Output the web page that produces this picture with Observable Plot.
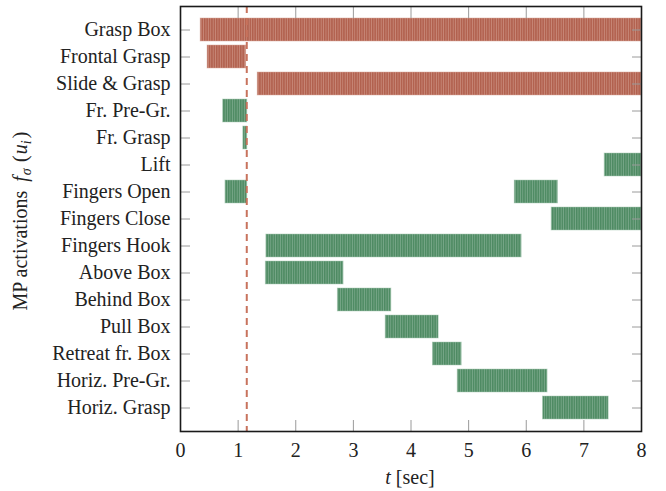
<!DOCTYPE html>
<html>
<head>
<meta charset="utf-8">
<script src="https://cdn.jsdelivr.net/npm/d3@7"></script>
<script src="https://cdn.jsdelivr.net/npm/@observablehq/plot@0.6"></script>
<style>
  html, body { margin: 0; padding: 0; background: #fff; }
  #chart svg { display: block; }
</style>
</head>
<body>
<div id="chart"></div>
<script>
const categories = ["Grasp Box","Frontal Grasp","Slide & Grasp","Fr. Pre-Gr.","Fr. Grasp","Lift","Fingers Open","Fingers Close","Fingers Hook","Above Box","Behind Box","Pull Box","Retreat fr. Box","Horiz. Pre-Gr.","Horiz. Grasp"];
const segTask  = ["Grasp Box","Frontal Grasp","Slide & Grasp","Fr. Pre-Gr.","Fr. Grasp","Lift","Fingers Open","Fingers Open","Fingers Close","Fingers Hook","Above Box","Behind Box","Pull Box","Retreat fr. Box","Horiz. Pre-Gr.","Horiz. Grasp"];
const segStart = [0.35,0.47,1.34,0.74,1.09,7.36,0.78,5.80,6.44,1.49,1.48,2.73,3.56,4.38,4.81,6.29];
const segEnd   = [8.00,1.14,8.00,1.16,1.16,8.00,1.16,6.55,8.00,5.92,2.83,3.66,4.48,4.88,6.37,7.43];
const segGroup = ["box","box","box","hand","hand","hand","hand","hand","hand","hand","hand","hand","hand","hand","hand","hand"];
const markerTime = [1.15];
const xTicks = [0,1,2,3,4,5,6,7,8];

const segments = segTask.map((t, i) => ({task: t, start: segStart[i], end: segEnd[i], group: segGroup[i]}));

const font = "'Liberation Serif', 'Times New Roman', serif";
const tickColor = "#9a9a9a";

const plot = Plot.plot({
  width: 666,
  height: 491,
  marginLeft: 180,
  marginRight: 25,
  marginTop: 6,
  marginBottom: 60,
  style: {fontFamily: font, fontSize: "20px", color: "#222", background: "#fff"},
  x: {domain: [0, 8]},
  y: {domain: categories, paddingInner: 0.16, paddingOuter: 0.33},
  marks: [
    Plot.barX(segments.filter(d => d.group === "box"), {y: "task", x1: "start", x2: "end", fill: "url(#stripeR)", stroke: "#d9a89b", strokeWidth: 0.8, strokeOpacity: 0.6}),
    Plot.barX(segments.filter(d => d.group === "hand"), {y: "task", x1: "start", x2: "end", fill: "url(#stripeG)", stroke: "#a9c9b4", strokeWidth: 0.8, strokeOpacity: 0.6}),
    Plot.ruleX(markerTime, {x: d => d, stroke: "#c8735d", strokeWidth: 2, strokeDasharray: "7,5"}),
    Plot.axisX({anchor: "bottom", ticks: xTicks, tickSize: 0, tickPadding: 9, dy: 2, label: null, fill: "#222", tickFormat: d => d}),
    Plot.axisX({anchor: "bottom", ticks: xTicks, tickSize: -11, stroke: tickColor, label: null, tickFormat: () => ""}),
    Plot.axisX({anchor: "top", ticks: xTicks, tickSize: -11, stroke: tickColor, label: null, tickFormat: () => ""}),
    Plot.axisY({anchor: "left", tickSize: -10, tickPadding: 20, stroke: tickColor, label: null, fill: "#222"}),
    Plot.axisY({anchor: "right", tickSize: -10, stroke: tickColor, label: null, tickFormat: () => ""}),
    Plot.frame({stroke: "#1a1a1a", strokeWidth: 1.6})
  ]
});

document.getElementById("chart").appendChild(plot);

const svg = d3.select(plot);
svg.style("font-family", font);
const defs = svg.insert("defs", ":first-child");
function stripe(id, dark, light) {
  const p = defs.append("pattern").attr("id", id).attr("patternUnits", "userSpaceOnUse")
    .attr("width", 2.4).attr("height", 20);
  p.append("rect").attr("width", 2.4).attr("height", 20).attr("fill", dark);
  p.append("rect").attr("x", 1.5).attr("width", 0.9).attr("height", 20).attr("fill", light);
}
stripe("stripeR", "#b1604d", "#c8897a");
stripe("stripeG", "#4d8a62", "#7aa88a");

// y axis title
const yl = svg.append("text")
  .attr("transform", "translate(27,221) rotate(-90)")
  .attr("text-anchor", "middle")
  .attr("font-family", font).attr("font-size", 20).attr("fill", "#222");
yl.append("tspan").text("MP activations");
yl.append("tspan").attr("font-style", "italic").attr("dx", 9).text("f");
yl.append("tspan").attr("font-style", "italic").attr("font-size", 14).attr("dy", 4).attr("dx", 1).text("σ");
yl.append("tspan").attr("dy", -4).attr("dx", 6).attr("font-size", 21).text("(");
yl.append("tspan").attr("font-style", "italic").attr("dx", 1).text("u");
yl.append("tspan").attr("font-style", "italic").attr("font-size", 14).attr("dy", 4).text("i");
yl.append("tspan").attr("dy", -4).attr("dx", 2).attr("font-size", 21).text(")");

// x axis title
const xl = svg.append("text")
  .attr("x", 410).attr("y", 484)
  .attr("text-anchor", "middle")
  .attr("font-family", font).attr("font-size", 20).attr("fill", "#222");
xl.append("tspan").attr("font-style", "italic").text("t");
xl.append("tspan").text(" [sec]");
</script>
</body>
</html>
